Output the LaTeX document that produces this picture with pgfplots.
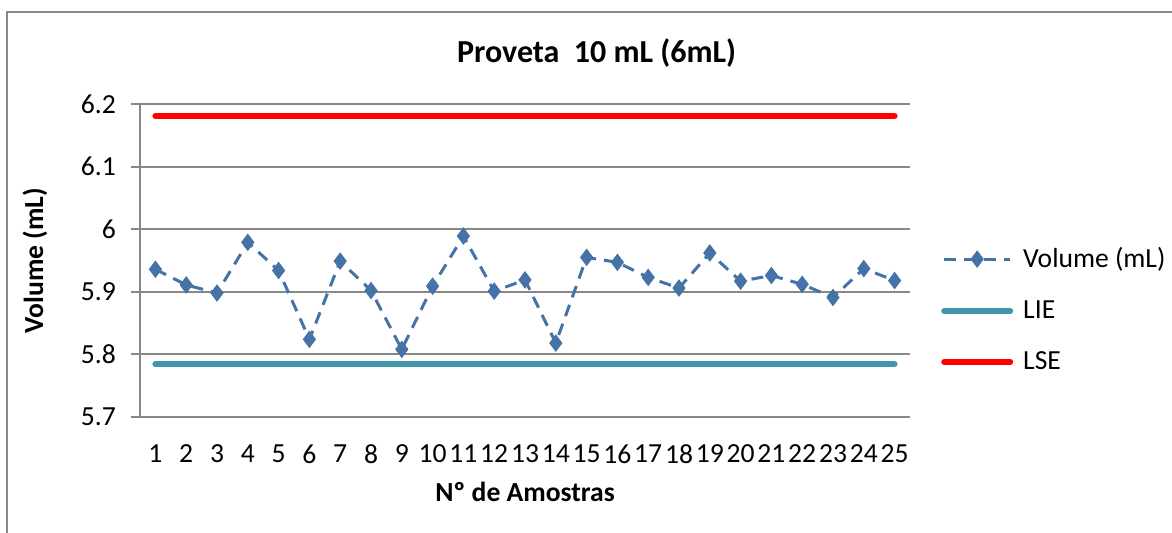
\documentclass[border=0pt]{standalone}
\usepackage{pgfplots}
\pgfplotsset{compat=1.18}
\usepackage{fontspec}
\setmainfont{Carlito}
\definecolor{vol}{HTML}{4572A7}
\definecolor{lie}{HTML}{3F97AE}
\definecolor{lse}{HTML}{FF0000}
\definecolor{gridc}{HTML}{888888}
\pgfplotstableread{
x y
1 5.936
2 5.911
3 5.898
4 5.979
5 5.934
6 5.824
7 5.949
8 5.902
9 5.808
10 5.909
11 5.989
12 5.901
13 5.919
14 5.818
15 5.955
16 5.947
17 5.923
18 5.906
19 5.962
20 5.917
21 5.926
22 5.912
23 5.891
24 5.937
25 5.918
}\voldata
\begin{document}
\begin{tikzpicture}
\path[use as bounding box] (0,0) rectangle (586pt,266.5pt);
\begin{scope}
\clip (0,0) rectangle (586pt,266.5pt);
\draw[gridc, line width=1pt] (3.5pt,-10pt) -- (3.5pt,260.5pt) -- (600pt,260.5pt);
\end{scope}
\begin{axis}[
  at={(70pt,58pt)}, anchor=south west,
  scale only axis, width=385pt, height=156.5pt,
  xmin=0.5, xmax=25.5, ymin=5.7, ymax=6.2,
  xtick={1,...,25}, ytick={5.7,5.8,5.9,6.0,6.1,6.2},
  yticklabels={5.7,5.8,5.9,6,6.1,6.2},
  major x tick style={draw=none},
  y tick style={gridc, line width=1pt},
  tick align=outside, major tick length=4.5pt,
  ymajorgrids, grid style={gridc, line width=1pt},
  axis x line*=bottom, axis y line*=left,
  axis line style={gridc, line width=1pt, -},
  /pgf/number format/assume math mode=true,
  tick label style={font=\fontsize{13.8}{16}\selectfont, text=black},
  xticklabel style={yshift=-6pt},
  yticklabel style={xshift=-4pt},
  xlabel={Nº de Amostras}, ylabel={Volume (mL)},
  label style={font=\fontsize{13.8}{16}\selectfont\bfseries},
  xlabel style={at={(axis description cs:0.5,-0.24)}, anchor=center},
  ylabel style={at={(axis description cs:-0.1364,0.5)}, anchor=center, rotate=0},
  title={Proveta\ \ 10 mL (6mL)},
  title style={at={(axis description cs:0.593,1.125)}, anchor=center, font=\fontsize{16}{18}\selectfont\bfseries},
  legend style={at={(1.04,0.342)}, anchor=west, draw=none, fill=none,
     font=\fontsize{13.8}{16}\selectfont, row sep=11pt, inner sep=0pt,
     legend cell align=left,
     /tikz/every odd column/.append style={column sep=3pt}},
  legend image code/.code={\draw[mark repeat=2,mark phase=2,#1] plot coordinates {(0pt,0pt) (16.5pt,0pt) (33pt,0pt)};},
  clip=false,
]
\addplot[vol, line width=1.5pt, dash pattern=on 6pt off 4pt, mark=diamond*, mark size=4pt, mark options={solid, fill=vol, draw=vol, line width=0.5pt}] table[x=x,y=y]{\voldata};
\addlegendentry{Volume (mL)}
\addplot[lie, line width=3pt, line cap=round] coordinates {(1,5.784) (25,5.784)};
\addlegendentry{LIE}
\addplot[lse, line width=3pt, line cap=round] coordinates {(1,6.181) (25,6.181)};
\addlegendentry{LSE}
\end{axis}
\end{tikzpicture}
\end{document}
